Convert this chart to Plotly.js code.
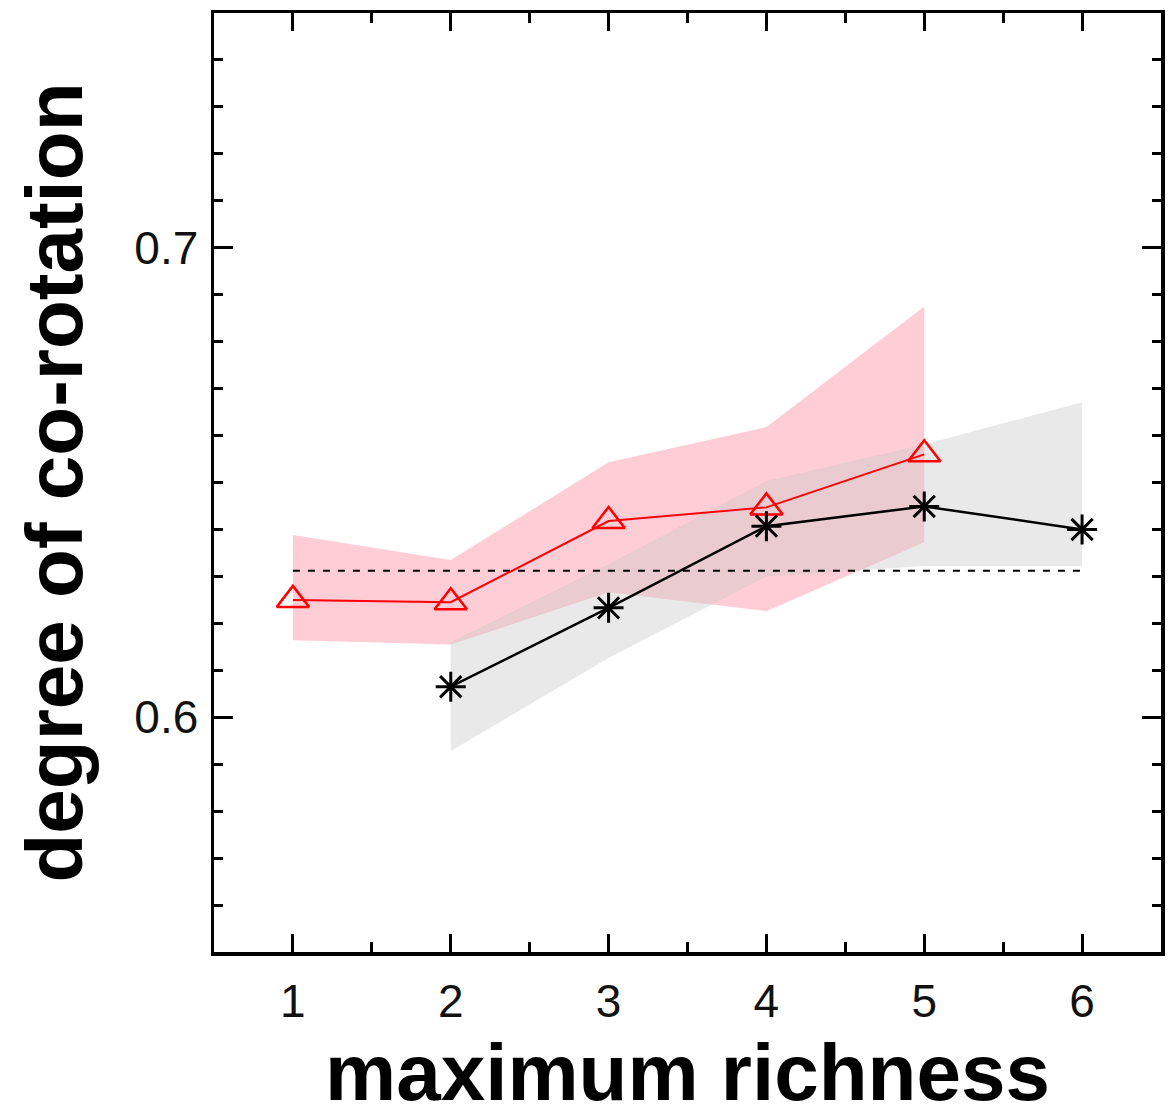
<!DOCTYPE html>
<html>
<head>
<meta charset="utf-8">
<script src="https://cdn.plot.ly/plotly-3.0.1.min.js"></script>
<style>html,body{margin:0;padding:0;background:#fff;}#chart{width:1174px;height:1117px;}</style>
</head>
<body>
<div id="chart"></div>
<script>
// Data
const redX = [1, 2, 3, 4, 5];
const redMean = [0.6250, 0.6245, 0.6418, 0.6447, 0.6560];
const redUpper = [0.6388, 0.6335, 0.6543, 0.6618, 0.6875];
const redLower = [0.6164, 0.6155, 0.6266, 0.6226, 0.6373];

const blackX = [2, 3, 4, 5, 6];
const blackMean = [0.6065, 0.6233, 0.6407, 0.6449, 0.6400];
const blackUpper = [0.6160, 0.6326, 0.6503, 0.6581, 0.6671];
const blackLower = [0.5928, 0.6126, 0.6300, 0.6322, 0.6322];

const refX = [1, 6];
const refLevel = 0.6312;

const xTicks = [1, 2, 3, 4, 5, 6];
const yTicks = [0.6, 0.7];
const yTickText = ["0.6", "0.7"];

function band(xs, up, lo, color) {
  return {
    x: xs.concat(xs.slice().reverse()),
    y: up.concat(lo.slice().reverse()),
    type: 'scatter', mode: 'lines', fill: 'toself',
    fillcolor: color, line: {width: 0}, hoverinfo: 'skip', showlegend: false
  };
}

const traces = [
  band(redX, redUpper, redLower, 'rgba(255,192,203,0.8)'),
  band(blackX, blackUpper, blackLower, 'rgba(200,200,200,0.4)'),
  {
    x: refX, y: refX.map(() => refLevel), type: 'scatter', mode: 'lines',
    line: {color: '#000', width: 2, dash: '7px,8px'}, showlegend: false
  },
  {
    x: redX, y: redMean, type: 'scatter', mode: 'lines+markers',
    line: {color: '#ff0000', width: 2},
    marker: {symbol: 'triangle-up-open', size: 28, color: '#ff0000', line: {color: '#ff0000', width: 2.5}},
    showlegend: false
  },
  {
    x: blackX, y: blackMean, type: 'scatter', mode: 'lines+markers',
    line: {color: '#000', width: 2.5},
    marker: {symbol: 'asterisk-open', size: 25, color: '#000', line: {color: '#000', width: 3}},
    showlegend: false
  }
];

const tickFont = {family: '"Liberation Sans", Arial, sans-serif', size: 46, color: '#111'};
const titleFont = {family: '"Liberation Sans", Arial, sans-serif', size: 80, color: '#000', weight: 'bold'};

const layout = {
  width: 1174, height: 1117,
  margin: {l: 214, r: 13, t: 13, b: 165},
  paper_bgcolor: '#fff', plot_bgcolor: '#fff',
  showlegend: false,
  xaxis: {
    range: [0.5, 6.5], tickmode: 'array', tickvals: xTicks, ticktext: xTicks.map(String),
    ticks: 'inside', ticklen: 18, tickwidth: 3, tickcolor: '#000',
    minor: {dtick: 0.5, tick0: 0.5, ticks: 'inside', ticklen: 10, tickwidth: 3, tickcolor: '#000', showgrid: false},
    showline: true, linewidth: 3.5, linecolor: '#000', mirror: 'ticks',
    showgrid: false, zeroline: false,
    tickfont: tickFont, ticklabelstandoff: 6,
    title: {text: 'maximum richness', font: titleFont, standoff: 26}
  },
  yaxis: {
    range: [0.55, 0.75], tickmode: 'array', tickvals: yTicks, ticktext: yTickText,
    ticks: 'inside', ticklen: 19, tickwidth: 3, tickcolor: '#000',
    minor: {dtick: 0.01, tick0: 0.55, ticks: 'inside', ticklen: 9, tickwidth: 3, tickcolor: '#000', showgrid: false},
    showline: true, linewidth: 3.5, linecolor: '#000', mirror: 'ticks',
    showgrid: false, zeroline: false,
    tickfont: tickFont, ticklabelstandoff: 3,
    title: {text: 'degree of co-rotation', font: titleFont, standoff: 26}
  }
};

Plotly.newPlot('chart', traces, layout, {displayModeBar: false, staticPlot: true});
</script>
</body>
</html>
